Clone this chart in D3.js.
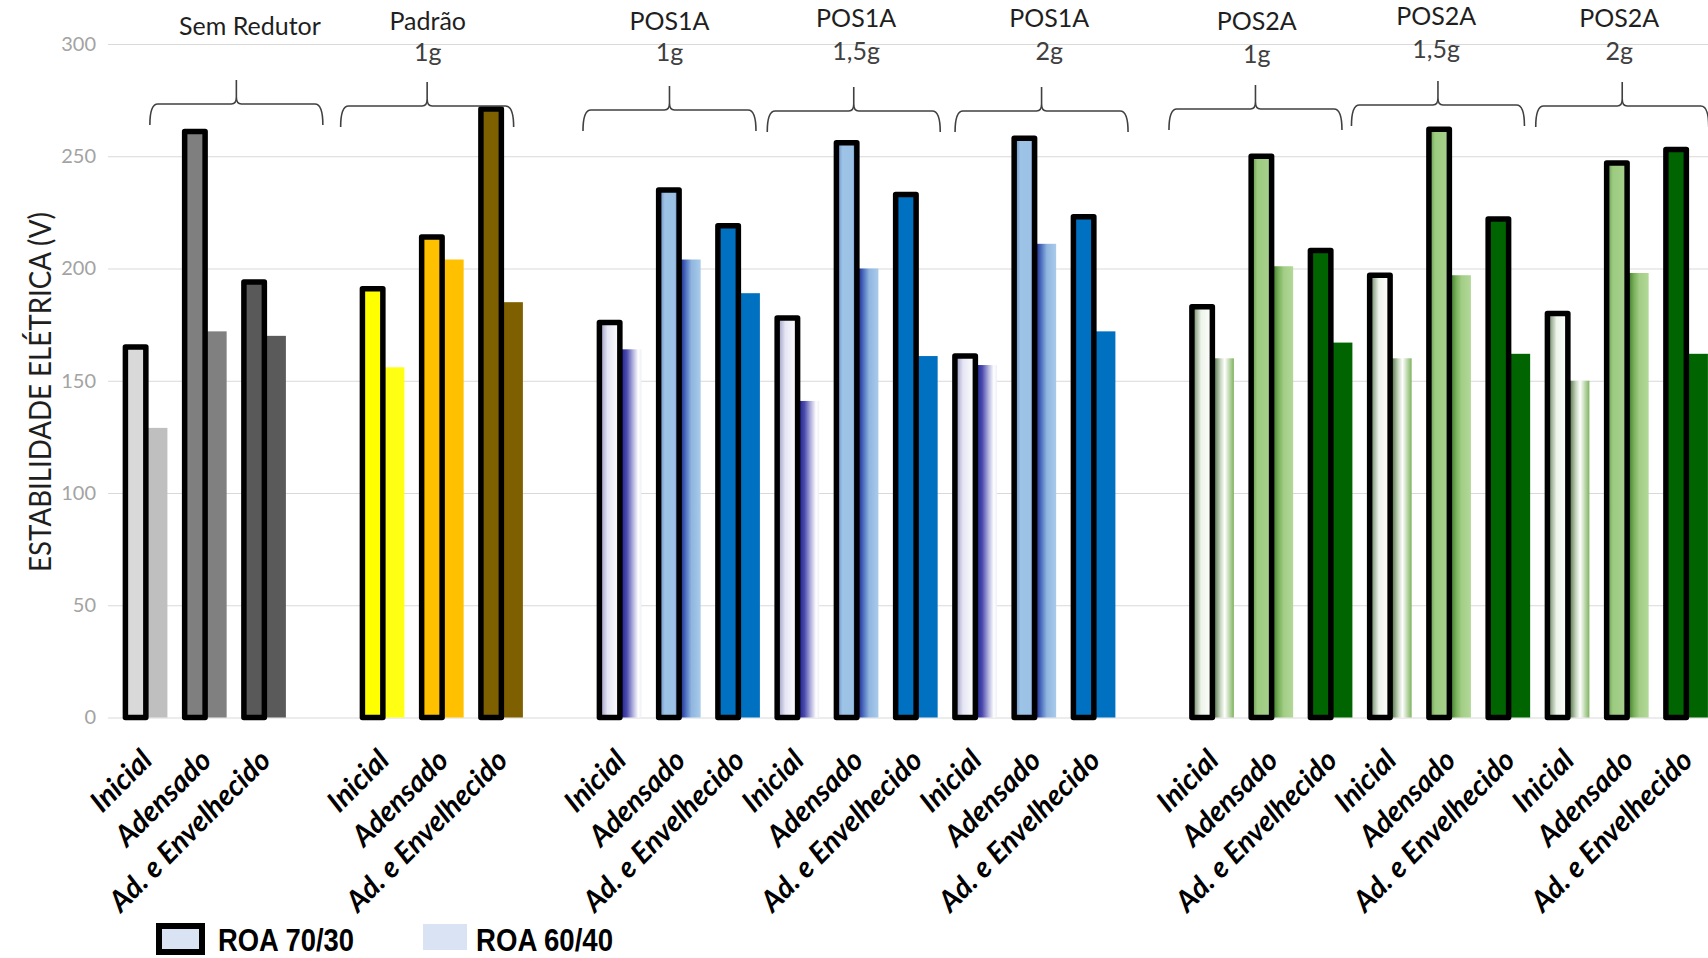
<!DOCTYPE html>
<html>
<head>
<meta charset="utf-8">
<script src="https://cdn.jsdelivr.net/npm/d3@7"></script>
<style>
  html, body { margin: 0; padding: 0; background: #ffffff; }
  svg { display: block; }
</style>
</head>
<body>
<svg id="chart" width="1708" height="958"></svg>
<script>
// ---- data -------------------------------------------------------------
const groups = ["Sem Redutor", "Padrão 1g", "POS1A 1g", "POS1A 1,5g", "POS1A 2g", "POS2A 1g", "POS2A 1,5g", "POS2A 2g"];
const groupTitle = ["Sem Redutor", "Padrão", "POS1A", "POS1A", "POS1A", "POS2A", "POS2A", "POS2A"];
const groupDose = ["", "1g", "1g", "1,5g", "2g", "1g", "1,5g", "2g"];
const stages = ["Inicial", "Adensado", "Ad. e Envelhecido"];
const series = ["ROA 70/30", "ROA 60/40"];
// electrical stability (V), one value per group x stage
const roa7030 = [165, 261, 194,  191, 214, 271,  176, 235, 219,  178, 256, 233,  161, 258, 223,
                 183, 250, 208,  197, 262, 222,  180, 247, 253];
const roa6040 = [129, 172, 170,  156, 204, 185,  164, 204, 189,  141, 200, 161,  157, 211, 172,
                 160, 201, 167,  160, 197, 162,  150, 198, 162];
const yTicks = [0, 50, 100, 150, 200, 250, 300];
// groups followed by an empty category slot
const gapAfter = [0, 1, 4];

// ---- layout -----------------------------------------------------------
const W = 1708, H = 958;
const plotLeft = 108;
const slotStep = 59.25;
const slotStart = 114.9;

// family of each group (drives the fill scheme)
const family = ["SR", "PAD", "POS1A", "POS1A", "POS1A", "POS2A", "POS2A", "POS2A"];
// [outlined bar fill, plain bar fill] per stage
const fillScheme = {
  SR:    [["#d9d9d9", "#bfbfbf"], ["#7f7f7f", "#808080"], ["#595959", "#5a5a5a"]],
  PAD:   [["#ffff00", "#ffff14"], ["#ffc000", "#ffc000"], ["#7f6000", "#7f6000"]],
  POS1A: [["url(#b1o)", "url(#b1f)"], ["url(#b2o)", "url(#b2f)"], ["#0070c0", "#0070c0"]],
  POS2A: [["url(#g1o)", "url(#g1f)"], ["url(#g2o)", "url(#g2f)"], ["#006400", "#006400"]]
};
// brace / title placement, in category steps from the group's first slot
const braceShift = [2.05, 1.27, 1.36, 1.47, 1.64, 1.25, 1.33, 1.44];
const titleShift = [2.28, 1.28, 1.36, 1.51, 1.77, 1.27, 1.30, 1.39];
const braceY =     [104, 106, 110, 111, 111, 109, 105, 106];
const titleY =     [35, 30, 30, 27, 27, 30, 25, 27];
const doseY =      [0, 61, 61, 60, 60, 63, 58, 60];

// ---- slots ------------------------------------------------------------
const slots = [];
const rows = [];
groups.forEach((g, gi) => {
  stages.forEach((s, si) => {
    const i = gi * 3 + si;
    const key = g + "|" + s;
    slots.push(key);
    rows.push({ key, group: gi, stage: s, si, v1: roa7030[i], v2: roa6040[i] });
  });
  if (gapAfter.includes(gi)) slots.push("gap" + gi);
});

const svg = d3.select("#chart");

// ---- gradients --------------------------------------------------------
const defs = svg.append("defs");
function grad(id, stops) {
  const lg = defs.append("linearGradient").attr("id", id)
    .attr("x1", "0%").attr("x2", "100%").attr("y1", "0%").attr("y2", "0%");
  stops.forEach(([o, c]) => lg.append("stop").attr("offset", o).attr("stop-color", c));
}
grad("b1o", [["0%", "#9090bd"], ["40%", "#e6e6f4"], ["100%", "#ffffff"]]);
grad("b1f", [["0%", "#1f1f8c"], ["28%", "#4a4aae"], ["58%", "#b0b0dd"], ["85%", "#ffffff"], ["100%", "#eeeef8"]]);
grad("b2o", [["0%", "#5f83bf"], ["30%", "#9dc3e6"], ["80%", "#9bc1e4"], ["100%", "#3f55a8"]]);
grad("b2f", [["0%", "#1c2490"], ["28%", "#4f72c0"], ["55%", "#90b6e0"], ["100%", "#a9cbea"]]);
grad("g1o", [["0%", "#5a7851"], ["45%", "#eef4ea"], ["100%", "#ffffff"]]);
grad("g1f", [["0%", "#4a6a42"], ["35%", "#c8d8c0"], ["55%", "#ffffff"], ["100%", "#7fb35f"]]);
grad("g2o", [["0%", "#5b8c43"], ["30%", "#9ccb80"], ["100%", "#a9d18e"]]);
grad("g2f", [["0%", "#3f7a2a"], ["28%", "#78b05a"], ["55%", "#a3ce86"], ["100%", "#b2d898"]]);

// ---- scales -----------------------------------------------------------
const y = d3.scaleLinear().domain([0, 300]).range([717.5, 44]);
const x = d3.scaleBand().domain(slots).range([slotStart, slotStart + slotStep * slots.length]).padding(0);
const xs = d3.scaleBand().domain(series).range([10.5, 52.5]).paddingInner(0.05);

// ---- y axis with gridlines --------------------------------------------
const yAxis = d3.axisLeft(y).tickValues(yTicks).tickSize(-(W - plotLeft)).tickPadding(12);
const ga = svg.append("g").attr("transform", `translate(${plotLeft},0)`).call(yAxis);
ga.select(".domain").remove();
ga.selectAll(".tick line").attr("stroke", "#d9d9d9").attr("stroke-width", 1.2);
ga.selectAll(".tick text")
  .attr("fill", "#a3a3a3")
  .style("font-family", "Lato, 'Open Sans', sans-serif")
  .style("font-size", "20px");

// y axis title
svg.append("text")
  .attr("transform", "translate(51,392) rotate(-90)")
  .attr("text-anchor", "middle")
  .attr("textLength", 360)
  .attr("lengthAdjust", "spacingAndGlyphs")
  .style("font-family", "Lato, 'Open Sans', sans-serif")
  .style("font-size", "30px")
  .attr("fill", "#1f1f1f")
  .text("ESTABILIDADE ELÉTRICA (V)");

// ---- bars -------------------------------------------------------------
const bars = svg.append("g");
// ROA 60/40: plain bars
bars.selectAll("rect.s2").data(rows).join("rect").attr("class", "s2")
  .attr("x", d => x(d.key) + xs(series[1]))
  .attr("y", d => y(d.v2))
  .attr("width", xs.bandwidth())
  .attr("height", d => y(0) - y(d.v2))
  .attr("fill", d => fillScheme[family[d.group]][d.si][1]);
// ROA 70/30: bars with heavy black outline
bars.selectAll("rect.s1").data(rows).join("rect").attr("class", "s1")
  .attr("x", d => x(d.key) + xs(series[0]))
  .attr("y", d => y(d.v1))
  .attr("width", xs.bandwidth())
  .attr("height", d => y(0) - y(d.v1))
  .attr("fill", d => fillScheme[family[d.group]][d.si][0])
  .attr("stroke", "#000")
  .attr("stroke-width", 5.5)
  .attr("stroke-linejoin", "round");

// ---- category labels --------------------------------------------------
svg.append("g").selectAll("text").data(rows).join("text")
  .attr("transform", d => `translate(${x(d.key) + 39},762) rotate(-45)`)
  .attr("text-anchor", "end")
  .style("font-family", "Lato, 'Open Sans', sans-serif")
  .style("font-size", "29px")
  .style("font-weight", "bold")
  .style("font-style", "italic")
  .attr("fill", "#000")
  .text(d => d.stage);

// ---- group braces and titles ------------------------------------------
const braceHalf = 86.5;
function bracePath(cx, yh) {
  const x0 = cx - braceHalf, x1 = cx + braceHalf;
  return `M${x0},${yh + 21} Q${x0},${yh} ${x0 + 8},${yh} L${cx - 5},${yh} Q${cx},${yh} ${cx},${yh - 7} L${cx},${yh - 24}` +
         ` M${cx},${yh - 7} Q${cx},${yh} ${cx + 5},${yh} L${x1 - 8},${yh} Q${x1},${yh} ${x1},${yh + 21}`;
}
const hdr = svg.append("g");
groups.forEach((g, gi) => {
  const first = x(g + "|" + stages[0]);
  const bx = first + braceShift[gi] * slotStep;
  const tx = first + titleShift[gi] * slotStep;
  hdr.append("path")
    .attr("d", bracePath(bx, braceY[gi]))
    .attr("fill", "none")
    .attr("stroke", "#404040")
    .attr("stroke-width", 1.6);
  hdr.append("text")
    .attr("x", tx).attr("y", titleY[gi])
    .attr("text-anchor", "middle")
    .style("font-family", "Lato, 'Open Sans', sans-serif")
    .style("font-size", "25px")
    .attr("fill", "#1f1f1f")
    .text(groupTitle[gi]);
  if (groupDose[gi]) {
    hdr.append("text")
      .attr("x", tx).attr("y", doseY[gi])
      .attr("text-anchor", "middle")
      .style("font-family", "Lato, 'Open Sans', sans-serif")
      .style("font-size", "25px")
      .attr("fill", "#404040")
      .text(groupDose[gi]);
  }
});

// ---- legend -----------------------------------------------------------
const lg = svg.append("g");
lg.append("rect").attr("x", 159).attr("y", 926).attr("width", 43).attr("height", 26)
  .attr("fill", "#dae3f3").attr("stroke", "#000").attr("stroke-width", 6);
lg.append("text").attr("x", 218).attr("y", 951)
  .attr("textLength", 136).attr("lengthAdjust", "spacingAndGlyphs")
  .style("font-family", "'Liberation Sans Narrow', 'Arial Narrow', 'Liberation Sans', sans-serif")
  .style("font-size", "32px").style("font-weight", "bold").attr("fill", "#000")
  .text(series[0]);
lg.append("rect").attr("x", 423).attr("y", 924).attr("width", 44).attr("height", 26)
  .attr("fill", "#dae3f3");
lg.append("text").attr("x", 476).attr("y", 951)
  .attr("textLength", 137).attr("lengthAdjust", "spacingAndGlyphs")
  .style("font-family", "'Liberation Sans Narrow', 'Arial Narrow', 'Liberation Sans', sans-serif")
  .style("font-size", "32px").style("font-weight", "bold").attr("fill", "#000")
  .text(series[1]);
</script>
</body>
</html>
